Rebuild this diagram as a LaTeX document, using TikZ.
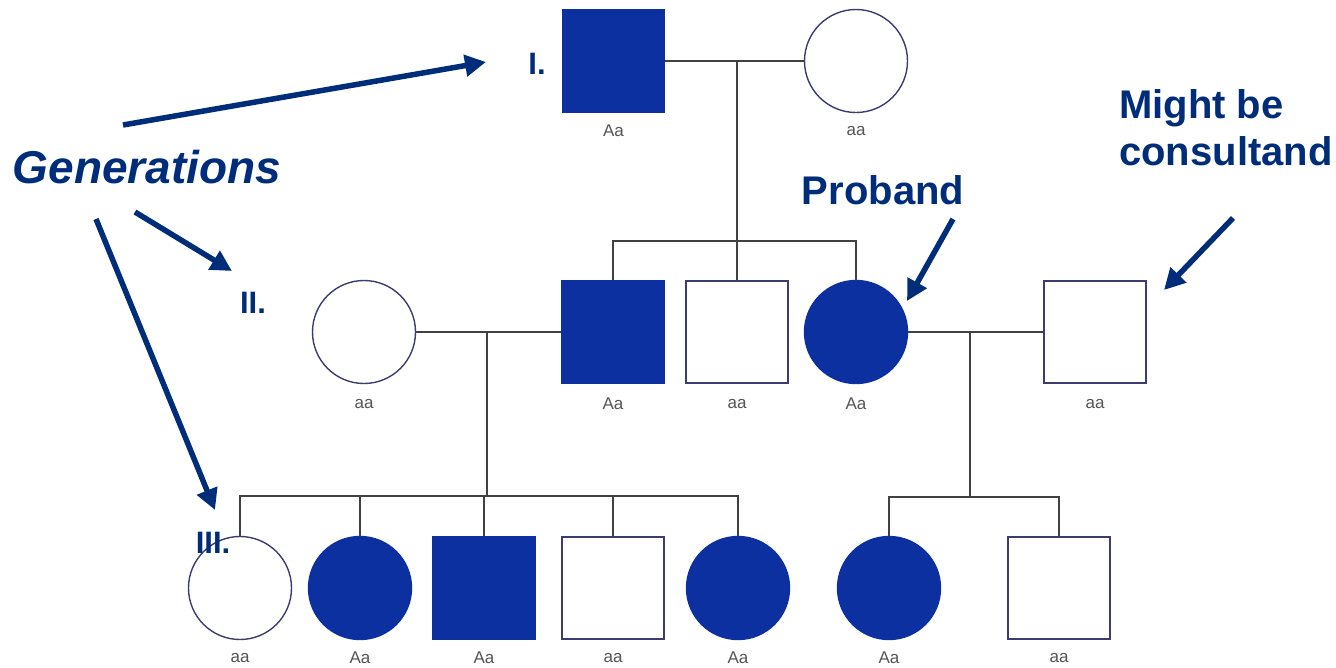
\documentclass[tikz,border=0pt]{standalone}
\usepackage{fontspec}
\setmainfont{Liberation Sans}
\usetikzlibrary{arrows.meta}
\definecolor{navy}{RGB}{0,45,122}
\definecolor{affblue}{RGB}{12,48,160}
\definecolor{outl}{RGB}{60,60,115}
\definecolor{pline}{RGB}{65,65,65}
\definecolor{glabel}{RGB}{85,85,85}
\begin{document}
\begin{tikzpicture}[x=1pt,y=-1pt,
  fem/.style={circle,draw=outl,line width=1.4pt,minimum size=103pt,inner sep=0pt,fill=white},
  mal/.style={rectangle,draw=outl,line width=1.4pt,minimum size=102pt,inner sep=0pt,fill=white},
  aff/.style={fill=affblue,draw=affblue},
  geno/.style={font=\fontsize{17}{20}\selectfont,text=glabel,inner sep=0pt},
  ped/.style={draw=pline,line width=1.8pt},
  gen/.style={font=\fontsize{31}{36}\selectfont\bfseries,text=navy,inner sep=0pt,anchor=base},
  callout/.style={font=\fontsize{40}{47}\selectfont\bfseries,text=navy,inner sep=0pt},
  arr/.style={draw=navy,line width=5.5pt,-{Triangle[length=21pt,width=21pt]}}]
\useasboundingbox (0,0) rectangle (1336,667);
\fill[white] (0,0) rectangle (1336,667);

% Generation I
\node[mal,aff] (I1) at (613.5,61) {};
\node[fem] (I2) at (856,61) {};
\node[geno] (gI1) at (613.5,131) {Aa};
\node[geno] (gI2) at (856,131) {aa};

% Generation II
\node[fem] (II1) at (364,332) {};
\node[mal,aff] (II2) at (613,332) {};
\node[mal] (II3) at (737,332) {};
\node[fem,aff] (II4) at (856,332) {};
\node[mal] (II5) at (1095,332) {};
\node[geno] (gII1) at (364,404) {aa};
\node[geno] (gII2) at (613,404) {Aa};
\node[geno] (gII3) at (737,404) {aa};
\node[geno] (gII4) at (856,404) {Aa};
\node[geno] (gII5) at (1095,404) {aa};

% Generation III
\node[fem] (III1) at (240,588) {};
\node[fem,aff] (III2) at (360,588) {};
\node[mal,aff] (III3) at (484,588) {};
\node[mal] (III4) at (613,588) {};
\node[fem,aff] (III5) at (738,588) {};
\node[fem,aff] (III6) at (889,588) {};
\node[mal] (III7) at (1059,588) {};
\node[geno] (gIII1) at (240,658) {aa};
\node[geno] (gIII2) at (360,658) {Aa};
\node[geno] (gIII3) at (484,658) {Aa};
\node[geno] (gIII4) at (613,658) {aa};
\node[geno] (gIII5) at (738,658) {Aa};
\node[geno] (gIII6) at (889,658) {Aa};
\node[geno] (gIII7) at (1059,658) {aa};

% junction coordinates
\coordinate (m1) at (737,61);
\coordinate (s1) at (737,241);
\coordinate (m2) at (487,332);
\coordinate (s2) at (487,496);
\coordinate (m3) at (970,332);
\coordinate (s3) at (970,497);

% pedigree lines
\draw[ped] (I1.east) -- (I2.west);
\draw[ped] (m1) -- (s1);
\draw[ped] (II2.north) |- (s1) -| (II4.north);
\draw[ped] (II3.north) -- (II3.north |- s1);

\draw[ped] (II1.east) -- (II2.west);
\draw[ped] (m2) -- (s2);
\draw[ped] (III1.north) |- (s2) -| (III5.north);
\draw[ped] (III2.north) -- (III2.north |- s2);
\draw[ped] (III3.north) -- (III3.north |- s2);
\draw[ped] (III4.north) -- (III4.north |- s2);

\draw[ped] (II4.east) -- (II5.west);
\draw[ped] (m3) -- (s3);
\draw[ped] (III6.north) |- (s3) -| (III7.north);

% annotations
\node[font=\fontsize{46}{52}\selectfont\bfseries\itshape,text=navy,inner sep=0pt,anchor=base] (G) at (147,183) {Generations};
\node[gen] (gen1) at (537,74) {I.};
\node[gen] (gen2) at (253,313) {II.};
\node[gen] (gen3) at (213,553) {III.};
\node[callout,anchor=base] (prob) at (883,204) {Proband};
\node[callout,anchor=base west,align=left] (cons) at (1119,165) {Might be\\consultand};

\coordinate (a1s) at (123,125);
\coordinate (a1e) at (486,62);
\coordinate (a2s) at (135,212);
\coordinate (a2e) at (232,271);
\coordinate (a3s) at (96,219);
\coordinate (a3e) at (215,510);
\coordinate (a4s) at (953,219);
\coordinate (a4e) at (907,301);
\coordinate (a5s) at (1233,218);
\coordinate (a5e) at (1164,290);
\draw[arr] (a1s) -- (a1e);
\draw[arr] (a2s) -- (a2e);
\draw[arr] (a3s) -- (a3e);
\draw[arr] (a4s) -- (a4e);
\draw[arr] (a5s) -- (a5e);
\end{tikzpicture}
\end{document}
